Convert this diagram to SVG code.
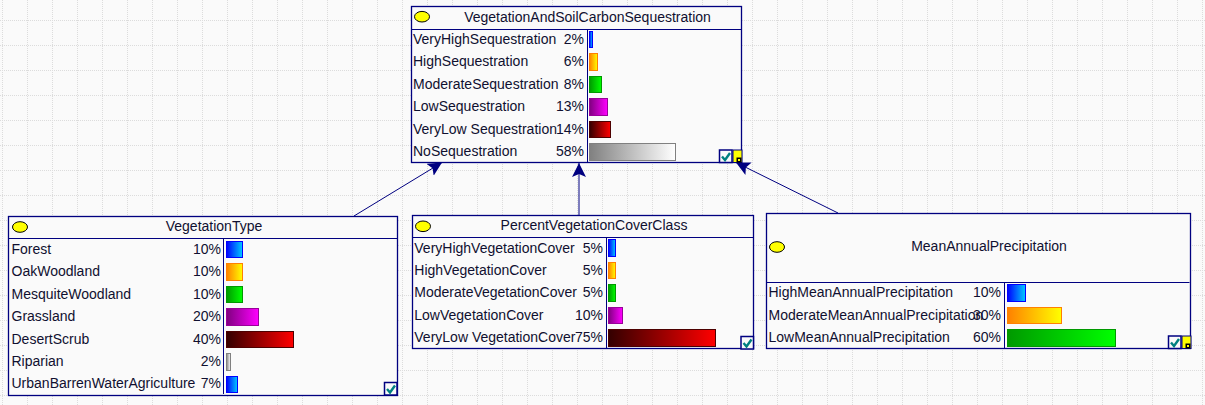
<svg xmlns="http://www.w3.org/2000/svg" width="1205" height="405" viewBox="0 0 1205 405">
<style>
.node{fill:#fafafa;stroke:#000080;stroke-width:1.3}
.div{fill:none;stroke:#000080;stroke-width:1}
.dot{fill:#ffff00;stroke:#000;stroke-width:1}
text{font-family:"Liberation Sans",Arial,sans-serif;font-size:14px;fill:#101030}
.t{text-anchor:middle}
.p{text-anchor:end}
.conn{stroke:#000080;stroke-width:1;fill:none}
.blue{fill:url(#gb);stroke:#0000ff}
.or{fill:url(#go);stroke:#ff8000}
.gr{fill:url(#gg);stroke:#009900}
.pu{fill:url(#gp);stroke:#990099}
.re{fill:url(#gr);stroke:#4d0000}
.ga{fill:url(#gy);stroke:#808080}
.chk{fill:#fafafa;stroke:#000080;stroke-width:1.5}
.tick{fill:none;stroke:#008080;stroke-width:2.4}
.yl{fill:#ffff00;stroke:#000080;stroke-width:1}
.cn{fill:#000}
</style>
<defs>
<linearGradient id="gb"><stop offset="0" stop-color="#0000ff"/><stop offset="1" stop-color="#00ccff"/></linearGradient>
<linearGradient id="go"><stop offset="0" stop-color="#ff8000"/><stop offset="1" stop-color="#ffff00"/></linearGradient>
<linearGradient id="gg"><stop offset="0" stop-color="#009900"/><stop offset="1" stop-color="#00ff00"/></linearGradient>
<linearGradient id="gp"><stop offset="0" stop-color="#800080"/><stop offset="1" stop-color="#ff00ff"/></linearGradient>
<linearGradient id="gr"><stop offset="0" stop-color="#330000"/><stop offset="1" stop-color="#ff0000"/></linearGradient>
<linearGradient id="gy"><stop offset="0" stop-color="#808080"/><stop offset="1" stop-color="#ffffff"/></linearGradient>
<pattern id="grid" patternUnits="userSpaceOnUse" width="50" height="50"><path d="M2.5 0V50M27.5 0V50M0 20.5H50M0 45.5H50" fill="none" stroke="#dcdcdc" stroke-width="1" stroke-dasharray="1 1"/></pattern>
<marker id="ah" markerUnits="userSpaceOnUse" markerWidth="16" markerHeight="16" refX="14" refY="7" orient="auto"><path d="M0 0L14 7L0 14L3 7Z" fill="#000080"/></marker>
<g id="check"><rect class="chk" x="0" y="0" width="12.5" height="12.5"/><path class="tick" d="M2.5 6.5L5.5 10L10.5 3"/></g>
<g id="yel"><rect class="yl" x="0" y="0" width="9" height="12.5"/><rect class="cn" x="3.5" y="7.5" width="5" height="5"/><rect x="5" y="9" width="2" height="2" fill="#ffff00"/></g>
</defs>
<rect width="1205" height="405" fill="#fafafa"/>
<rect width="1205" height="405" fill="url(#grid)"/>
<g id="connectors">
<line class="conn" x1="354" y1="216" x2="442" y2="162.5" marker-end="url(#ah)"/>
<line class="conn" x1="579" y1="215" x2="579" y2="163" marker-end="url(#ah)"/>
<line class="conn" x1="838" y1="213" x2="736" y2="162.5" marker-end="url(#ah)"/>
</g>
<g id="VegetationAndSoilCarbonSequestration">
<rect class="node" x="411.5" y="6.5" width="330" height="156"/>
<path class="div" d="M411.5 29.5H741.5M587.5 29.5V162.5"/>
<ellipse class="dot" cx="422" cy="16.7" rx="7.5" ry="5.3"/>
<text class="t" x="587.5" y="21.5">VegetationAndSoilCarbonSequestration</text>
<text x="413" y="44">VeryHighSequestration</text><text class="p" x="584" y="44">2%</text><rect class="blue" x="589.5" y="31.5" width="3" height="16"/>
<text x="413" y="66.4">HighSequestration</text><text class="p" x="584" y="66.4">6%</text><rect class="or" x="589.5" y="53.5" width="8" height="17"/>
<text x="413" y="88.8">ModerateSequestration</text><text class="p" x="584" y="88.8">8%</text><rect class="gr" x="589.5" y="76.5" width="12" height="16"/>
<text x="413" y="111.2">LowSequestration</text><text class="p" x="584" y="111.2">13%</text><rect class="pu" x="589.5" y="98.5" width="18" height="17"/>
<text x="413" y="133.6">VeryLow Sequestration</text><text class="p" x="584" y="133.6">14%</text><rect class="re" x="589.5" y="121.5" width="21" height="16"/>
<text x="413" y="156">NoSequestration</text><text class="p" x="584" y="156">58%</text><rect class="ga" x="589.5" y="143.5" width="86" height="17"/>
<use href="#check" x="719.5" y="150"/><use href="#yel" x="733" y="150"/>
</g>
<g id="VegetationType">
<rect class="node" x="8.5" y="216.5" width="389" height="179"/>
<path class="div" d="M8.5 238.5H397.5M223.5 238.5V394"/>
<ellipse class="dot" cx="20" cy="227" rx="7.5" ry="5.3"/>
<text class="t" x="214" y="231">VegetationType</text>
<text x="11.5" y="254">Forest</text><text class="p" x="221" y="254">10%</text><rect class="blue" x="226.5" y="241.5" width="16" height="16"/>
<text x="11.5" y="276.4">OakWoodland</text><text class="p" x="221" y="276.4">10%</text><rect class="or" x="226.5" y="263.5" width="16" height="17"/>
<text x="11.5" y="298.8">MesquiteWoodland</text><text class="p" x="221" y="298.8">10%</text><rect class="gr" x="226.5" y="286.5" width="16" height="16"/>
<text x="11.5" y="321.2">Grassland</text><text class="p" x="221" y="321.2">20%</text><rect class="pu" x="226.5" y="308.5" width="32" height="17"/>
<text x="11.5" y="343.6">DesertScrub</text><text class="p" x="221" y="343.6">40%</text><rect class="re" x="226.5" y="331.5" width="67" height="16"/>
<text x="11.5" y="366">Riparian</text><text class="p" x="221" y="366">2%</text><rect class="ga" x="226.5" y="353.5" width="4" height="17"/>
<text x="11.5" y="388.4">UrbanBarrenWaterAgriculture</text><text class="p" x="221" y="388.4">7%</text><rect class="blue" x="226.5" y="376.5" width="11" height="16"/>
<use href="#check" x="384.5" y="382.5"/>
</g>
<g id="PercentVegetationCoverClass">
<rect class="node" x="412.5" y="215.5" width="341" height="133"/>
<path class="div" d="M412.5 237.5H753.5M606.5 237.5V348.5"/>
<ellipse class="dot" cx="423" cy="226.3" rx="7.5" ry="5.3"/>
<text class="t" x="594" y="230">PercentVegetationCoverClass</text>
<text x="414.3" y="252.5">VeryHighVegetationCover</text><text class="p" x="603" y="252.5">5%</text><rect class="blue" x="608.5" y="239.5" width="7" height="17"/>
<text x="414.3" y="274.9">HighVegetationCover</text><text class="p" x="603" y="274.9">5%</text><rect class="or" x="608.5" y="262.5" width="7" height="16"/>
<text x="414.3" y="297.3">ModerateVegetationCover</text><text class="p" x="603" y="297.3">5%</text><rect class="gr" x="608.5" y="284.5" width="7" height="17"/>
<text x="414.3" y="319.7">LowVegetationCover</text><text class="p" x="603" y="319.7">10%</text><rect class="pu" x="608.5" y="307.5" width="14" height="16"/>
<text x="414.3" y="342.1">VeryLow VegetationCover</text><text class="p" x="603" y="342.1">75%</text><rect class="re" x="608.5" y="329.5" width="107" height="17"/>
<use href="#check" x="741" y="336.5"/>
</g>
<g id="MeanAnnualPrecipitation">
<rect class="node" x="766.5" y="213.5" width="424" height="135"/>
<path class="div" d="M766.5 282.5H1189.5M1004.5 282.5V348.5"/>
<ellipse class="dot" cx="777" cy="247" rx="7.5" ry="5.3"/>
<text class="t" x="989" y="251">MeanAnnualPrecipitation</text>
<text x="768.5" y="297.3">HighMeanAnnualPrecipitation</text><text class="p" x="1001" y="297.3">10%</text><rect class="blue" x="1007.5" y="284.5" width="18" height="17"/>
<text x="768.5" y="319.7">ModerateMeanAnnualPrecipitation</text><text class="p" x="1001" y="319.7">30%</text><rect class="or" x="1007.5" y="307.5" width="54" height="16"/>
<text x="768.5" y="342.1">LowMeanAnnualPrecipitation</text><text class="p" x="1001" y="342.1">60%</text><rect class="gr" x="1007.5" y="329.5" width="108" height="17"/>
<use href="#check" x="1168.5" y="336"/><use href="#yel" x="1182" y="336"/>
</g>
</svg>
